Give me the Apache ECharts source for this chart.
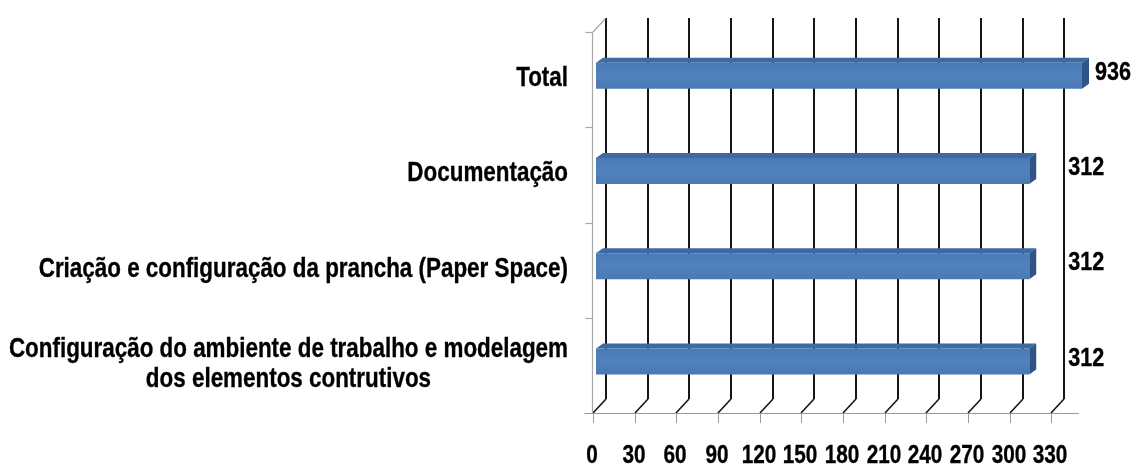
<!DOCTYPE html>
<html><head><meta charset="utf-8">
<script src="https://cdn.jsdelivr.net/npm/echarts@6/dist/echarts.min.js"></script>
<style>html,body{margin:0;padding:0;background:#fff}#c{width:1142px;height:469px}</style>
</head><body><div id="c"></div>
<script>
// ---- data ----
const categories = [
  'Total',
  'Documentação',
  'Criação e configuração da prancha (Paper Space)',
  'Configuração do ambiente de trabalho e modelagem\ndos elementos contrutivos'
];
const values = [936, 312, 312, 312];
const xTicks = [0, 30, 60, 90, 120, 150, 180, 210, 240, 270, 300, 330];
const xMax = 350;

// ---- style ----
const FONT = '"Liberation Sans", Arial, sans-serif';
const NARROW = 0.83;       // horizontal squeeze to mimic Arial Narrow
const DX = 13, DY = -14;   // back wall depth offset
const BDX = 7, BDY = -5;   // bar depth
const BOFF = 3;            // bar front offset from front plane
const BAR_H = 26;

const measureCtx = document.createElement('canvas').getContext('2d');
function textWidth(str, size) {
  measureCtx.font = 'bold ' + size + 'px ' + FONT;
  return NARROW * Math.max.apply(null, str.split('\n').map(s => measureCtx.measureText(s).width));
}
function narrowText(str, x, y, size, align, lineHeight) {
  return {type: 'text', x: x, y: y, scaleX: NARROW,
    style: {text: str, x: 0, y: 0, align: align, verticalAlign: 'middle',
      fontFamily: FONT, fontWeight: 'bold', fontSize: size, lineHeight: lineHeight || size,
      fill: '#000', stroke: '#000', lineWidth: 0.35}};
}

const chart = echarts.init(document.getElementById('c'), null, {renderer: 'canvas'});

const option = {
  animation: false,
  backgroundColor: '#fff',
  grid: {left: 593, top: 32, width: 486, height: 381, containLabel: false},
  xAxis: {
    type: 'value', min: 0, max: xMax, interval: 30,
    axisLine: {show: false}, axisTick: {show: false}, splitLine: {show: false}, axisLabel: {show: false}
  },
  yAxis: {
    type: 'category', inverse: true, data: categories,
    axisLine: {show: false}, axisTick: {show: false}, axisLabel: {show: false}, splitLine: {show: false}
  },
  series: [
    // back wall gridlines, floor diagonals, front ticks, tick labels
    {
      type: 'custom', silent: true, z: 1,
      data: xTicks.map(t => [t, 0]),
      encode: {x: 0, y: 1},
      renderItem(params, api) {
        const cs = params.coordSys;
        const t = api.value(0);
        const x = Math.round(api.coord([t, 0])[0]);
        const yb = cs.y + cs.height, yt = cs.y;
        return {type: 'group', children: [
          {type: 'line', shape: {x1: x + DX, y1: yb + DY, x2: x + DX, y2: yt + DY}, style: {stroke: '#151515', lineWidth: 2}},
          {type: 'line', shape: {x1: x, y1: yb, x2: x + DX, y2: yb + DY}, style: {stroke: '#151515', lineWidth: 1.6}},
          {type: 'line', shape: {x1: x + 0.5, y1: yb, x2: x + 0.5, y2: yb + 10}, style: {stroke: '#9a9a9a', lineWidth: 1}},
          narrowText(String(t), x - 1, yb + 43, 25, 'center')
        ]};
      }
    },
    // front axis frame (horizontal axis line, left edge, category ticks)
    {
      type: 'custom', silent: true, z: 2,
      data: [[0, 0]],
      encode: {x: 0, y: 1},
      renderItem(params, api) {
        const cs = params.coordSys;
        const yb = cs.y + cs.height + 0.5, yt = cs.y + 0.5;
        const xl = Math.round(api.coord([0, 0])[0]) - 0.5;
        const band = api.size([0, 1])[1];
        const kids = [
          {type: 'line', shape: {x1: xl - 8, y1: yb, x2: cs.x + cs.width, y2: yb}, style: {stroke: '#9a9a9a', lineWidth: 1.2}},
          {type: 'line', shape: {x1: xl, y1: yt, x2: xl, y2: yb}, style: {stroke: '#a8a8a8', lineWidth: 1.2}},
          {type: 'line', shape: {x1: xl, y1: yt, x2: xl + DX, y2: yt + DY}, style: {stroke: '#a8a8a8', lineWidth: 1.2}},
          {type: 'line', shape: {x1: xl - 7, y1: yt, x2: xl, y2: yt}, style: {stroke: '#a8a8a8', lineWidth: 1.2}}
        ];
        for (let i = 1; i < categories.length; i++) {
          const y = Math.round(api.coord([0, i])[1] - band / 2) + 0.5;
          kids.push({type: 'line', shape: {x1: xl - 7, y1: y, x2: xl, y2: y}, style: {stroke: '#a8a8a8', lineWidth: 1.2}});
        }
        return {type: 'group', children: kids};
      }
    },
    // 3D bars + value labels
    {
      type: 'custom', z: 3,
      data: values.map((v, i) => [v, i]),
      encode: {x: 0, y: 1},
      renderItem(params, api) {
        const raw = api.value(0), i = api.value(1);
        const v = Math.min(raw, xMax);
        const p0 = api.coord([0, i]), p1 = api.coord([v, i]);
        const cy = p0[1] - 4;
        const x0 = p0[0] + BOFF, x1 = p1[0] + BOFF;
        const top = cy - BAR_H / 2, bot = cy + BAR_H / 2;
        const labelX = Math.max(x1 + BDX + 6, api.coord([xTicks[xTicks.length - 1], i])[0] + DX + 4);
        return {type: 'group', children: [
          {type: 'polygon', shape: {points: [[x0, top], [x1, top], [x1 + BDX, top + BDY], [x0 + BDX, top + BDY]]},
           style: {fill: '#3d6aa3'}},
          {type: 'polygon', shape: {points: [[x1, top], [x1 + BDX, top + BDY], [x1 + BDX, bot + BDY], [x1, bot]]},
           style: {fill: '#2f5586'}},
          {type: 'rect', shape: {x: x0, y: top, width: x1 - x0, height: BAR_H},
           style: {fill: new echarts.graphic.LinearGradient(0, 0, 0, 1, [
             {offset: 0, color: '#4a7ab6'}, {offset: 0.5, color: '#5082bf'}, {offset: 1, color: '#4a79b3'}])}},
          narrowText(String(raw), labelX, p0[1] - 7, 26, 'left')
        ]};
      }
    },
    // category labels
    {
      type: 'custom', silent: true, z: 4,
      data: categories.map((c, i) => [0, i]),
      encode: {x: 0, y: 1},
      renderItem(params, api) {
        const i = api.value(1);
        const p = api.coord([0, i]);
        const txt = categories[i];
        const w = textWidth(txt, 27);
        const right = p[0] - 25;
        return narrowText(txt, right - w / 2, p[1] - 1, 27, 'center', 30);
      }
    }
  ]
};
chart.setOption(option);
</script>
</body></html>
